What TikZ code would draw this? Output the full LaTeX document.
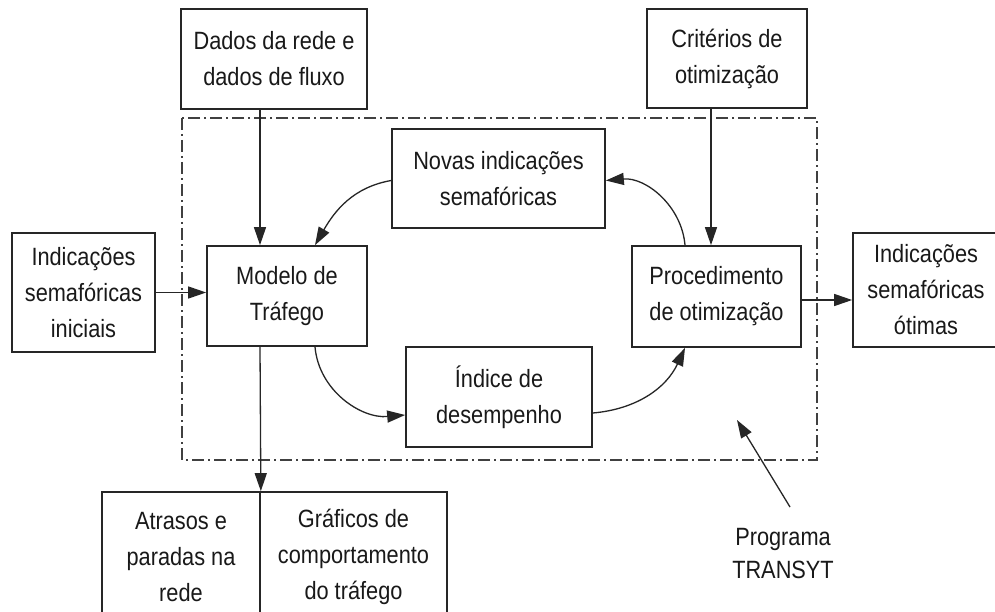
\documentclass[tikz,border=0pt]{standalone}
\usepackage{fontspec}
\setmainfont{Liberation Sans}[FakeStretch=0.87]
\usetikzlibrary{arrows.meta,calc}
\begin{document}
\begin{tikzpicture}[x=1pt,y=-1pt,
  box/.style={draw=black!85,line width=1.7pt,align=center,inner sep=0pt,
    font=\fontsize{25}{36}\selectfont,text=black!90},
  arr/.style={draw=black!85,line width=1.3pt,-{Triangle[length=18pt,width=12pt]}},
  frame/.style={draw=black!75,line width=1.4pt,dash pattern=on 12pt off 4pt on 2pt off 4pt}]
\useasboundingbox (0,0) rectangle (995,612);
\clip (0,0) rectangle (995,612);
\fill[white] (0,0) rectangle (995,612);
% program boundary
\draw[frame] (182,118) rectangle (817,460);
% boxes
\node[box,minimum width=186pt,minimum height=100pt] (dados) at (274,59) {Dados da rede e\\dados de fluxo};
\node[box,minimum width=160pt,minimum height=99pt] (crit) at (727,58.5) {Critérios de\\otimização};
\node[box,minimum width=213pt,minimum height=99pt] (novas) at (498.5,178.5) {Novas indicações\\semafóricas};
\node[box,minimum width=169pt,minimum height=101pt] (proc) at (716.5,296.5) {Procedimento\\de otimização};
\node[box,minimum width=160pt,minimum height=100pt] (modelo) at (287,296) {Modelo de\\Tráfego};
\node[box,minimum width=186pt,minimum height=100pt] (indice) at (499,397) {Índice de\\desempenho};
\node[box,minimum width=143pt,minimum height=119pt] (inic) at (83.5,292.5) {Indicações\\semafóricas\\iniciais};
\node[box,minimum width=146pt,minimum height=114pt] (otimas) at (926,290) {Indicações\\semafóricas\\ótimas};
\node[box,minimum width=158pt,minimum height=130pt] (atrasos) at (181,557) {Atrasos e\\paradas na\\rede};
\node[box,minimum width=187pt,minimum height=130pt] (graf) at (353.5,557) {Gráficos de\\comportamento\\do tráfego};
\node[align=center,inner sep=0pt,font=\fontsize{25}{33}\selectfont,text=black!90] (prog) at (783,554) {Programa\\TRANSYT};
% helper coordinates
\coordinate (c1) at (260,0);
\coordinate (c2) at (711,0);
\coordinate (c3) at (685,0);
\coordinate (c4) at (315,0);
\coordinate (ptail) at (790,507);
\coordinate (ptip) at (737,420);
% connectors
\draw[arr] (dados.south -| c1) -- (modelo.north -| c1);
\draw[arr] (crit.south -| c2) -- (proc.north -| c2);
\draw[arr] (inic.east) -- (inic.east -| modelo.west);
\draw[arr] (proc.east |- 0,300) -- (otimas.west |- 0,300);
\draw[arr] (modelo.south -| c1) -- (atrasos.north east);
\draw[arr] (proc.north -| c3) to[out=95,in=5] ($(novas.east)+(0,2)$);
\draw[arr] ($(novas.west)+(0,2)$) to[out=190,in=60] (modelo.north -| c4);
\draw[arr] (modelo.south -| c4) to[out=-85,in=185] ($(indice.west)+(0,18)$);
\draw[arr] ($(indice.east)+(0,16)$) to[out=5,in=-115] (proc.south -| c3);
\draw[arr] (ptail) -- (ptip);
\end{tikzpicture}
\end{document}
